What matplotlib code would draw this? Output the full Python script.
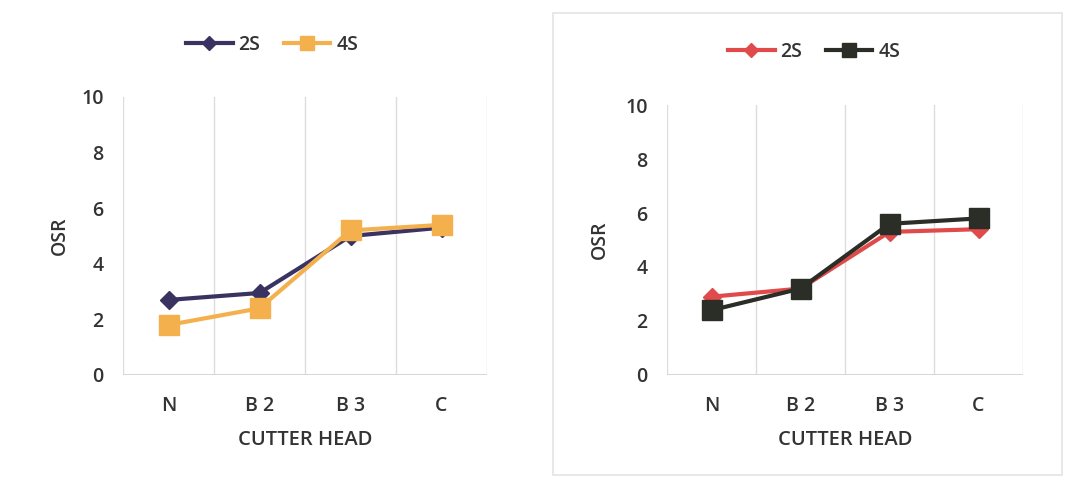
import matplotlib.pyplot as plt
from matplotlib.patches import Rectangle

plt.rcParams['font.family'] = ['Open Sans', 'DejaVu Sans']

categories = ['N', 'B 2', 'B 3', 'C']
series_names = ['2S', '4S']

# left chart
left_2s = [2.7, 2.95, 5.0, 5.3]
left_4s = [1.8, 2.4, 5.2, 5.4]
# right chart
right_2s = [2.9, 3.2, 5.3, 5.4]
right_4s = [2.4, 3.2, 5.6, 5.8]

fig = plt.figure(figsize=(10.69, 4.83), dpi=100)

# light frame around the right chart
fig.patches.append(Rectangle((553 / 1069, 1 - 475 / 483), 509 / 1069, 462 / 483,
                             transform=fig.transFigure, fill=False,
                             edgecolor='#e4e4e4', linewidth=1.2))

ax1 = fig.add_axes([123 / 1069, 1 - 375 / 483, 364 / 1069, 278 / 483])
ax2 = fig.add_axes([667 / 1069, 1 - 375 / 483, 356 / 1069, 270 / 483])

txt = '#333333'


def style_axes(ax, ypad):
    x = range(len(categories))
    ax.set_xlim(-0.5, len(categories) - 0.5)
    ax.set_ylim(0, 10)
    ax.set_yticks([0, 2, 4, 6, 8, 10])
    ax.set_xticks(list(x))
    ax.set_xticklabels(categories)
    for s in ax.spines.values():
        s.set_visible(False)
    for xv in [-0.5, 0.5, 1.5, 2.5, 3.5]:
        ax.axvline(xv, color='#dcdcdc', linewidth=1, zorder=0)
    ax.axhline(0, color='#d0d0d0', linewidth=1.2, zorder=0)
    ax.tick_params(length=0, labelsize=14, colors=txt, pad=14)
    ax.tick_params(axis='x', pad=15)
    for lab in ax.get_xticklabels() + ax.get_yticklabels():
        lab.set_fontweight(600)
    ax.set_xlabel('CUTTER HEAD', fontsize=14.5, color=txt, labelpad=10, fontweight=600)
    ax.set_ylabel('OSR', fontsize=14, color=txt, labelpad=ypad, fontweight=600)


x = range(len(categories))
l1, = ax1.plot(x, left_2s, color='#3a3361', marker='D', markersize=9,
               linewidth=3.0, label=series_names[0], zorder=3)
l2, = ax1.plot(x, left_4s, color='#f5b04e', marker='s', markersize=14,
               linewidth=3.0, label=series_names[1], zorder=4)
style_axes(ax1, 8)

r1, = ax2.plot(x, right_2s, color='#e04a4a', marker='D', markersize=9,
               linewidth=3.0, label=series_names[0], zorder=3)
r2, = ax2.plot(x, right_4s, color='#2b2e27', marker='s', markersize=14,
               linewidth=3.0, label=series_names[1], zorder=4)
style_axes(ax2, 11)

legend_font = {'size': 14, 'weight': 600}
fig.legend(handles=[l1, l2], loc='center', bbox_to_anchor=(272 / 1069, 1 - 45 / 483),
           ncol=2, frameon=False, prop=legend_font, handlelength=2.4, markerscale=0.75,
           columnspacing=1.2, handletextpad=0.3, labelcolor=txt)
fig.legend(handles=[r1, r2], loc='center', bbox_to_anchor=(814 / 1069, 1 - 52 / 483),
           ncol=2, frameon=False, prop=legend_font, handlelength=2.4, markerscale=0.75,
           columnspacing=1.2, handletextpad=0.3, labelcolor=txt)

fig.savefig('out.png', dpi=100, facecolor='white')
